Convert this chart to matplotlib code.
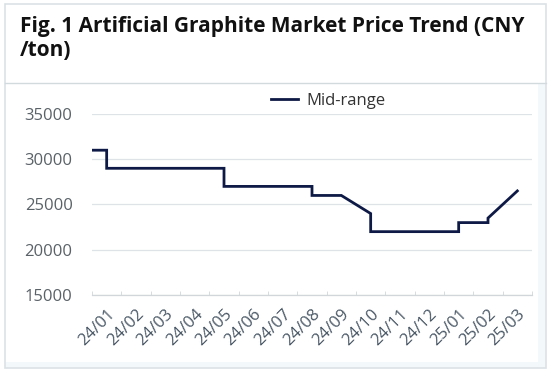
import matplotlib
matplotlib.use("Agg")
import matplotlib.pyplot as plt
from matplotlib.patches import Rectangle
from matplotlib.lines import Line2D

# ---- data ----
month_labels = ["24/01", "24/02", "24/03", "24/04", "24/05", "24/06", "24/07", "24/08",
                "24/09", "24/10", "24/11", "24/12", "25/01", "25/02", "25/03"]
# time in months since start of Jan 2024
month_pos = [0.0, 0.5, 0.5, 4.5, 4.5, 7.5, 7.5, 8.5, 9.5, 9.5, 12.5, 12.5, 13.5, 13.5, 14.5]
mid_price = [31000, 31000, 29000, 29000, 27000, 27000, 26000, 26000, 24000, 22000,
             22000, 23000, 23000, 23500, 26500]
y_ticks = [15000, 20000, 25000, 30000, 35000]
series_name = "Mid-range"
title_text = "Fig. 1 Artificial Graphite Market Price Trend (CNY\n/ton)"

W, H = 550, 372
fig = plt.figure(figsize=(W / 100, H / 100), dpi=100)
fig.patch.set_facecolor("white")

def fx(px):
    return px / W

def fy(py):
    return 1 - py / H

# panel backgrounds / borders
border = "#dbe2e6"
fig.add_artist(Rectangle((fx(538), fy(368)), fx(546) - fx(538), fy(83) - fy(368),
                         transform=fig.transFigure, facecolor="#f3f8fb", edgecolor="none", zorder=0))
fig.add_artist(Rectangle((fx(5), fy(368)), fx(546) - fx(5), fy(362) - fy(368),
                         transform=fig.transFigure, facecolor="#f3f8fb", edgecolor="none", zorder=0))
fig.add_artist(Rectangle((fx(5), fy(368)), fx(546) - fx(5), fy(4) - fy(368),
                         transform=fig.transFigure, facecolor="none", edgecolor=border, lw=1.2, zorder=1))
fig.add_artist(Line2D([fx(5), fx(546)], [fy(83), fy(83)], transform=fig.transFigure,
                      color="#d3dadd", lw=1.0, zorder=1))

fig.text(fx(20), fy(16), title_text, ha="left", va="top", fontsize=15,
         fontweight="bold", family="Open Sans", color="#111111", linespacing=1.2)

ax = fig.add_axes([fx(92), fy(295), fx(532) - fx(92), fy(114) - fy(295)])
ax.set_facecolor("none")
line, = ax.plot(month_pos, mid_price, color="#0e1a45", lw=2.0, solid_joinstyle="miter",
                label=series_name, zorder=3)
ax.set_xlim(0, len(month_labels))
ax.set_ylim(y_ticks[0], y_ticks[-1])
ax.set_yticks(y_ticks)
ax.set_yticklabels([str(v) for v in y_ticks])
ax.set_xticks([i + 0.5 for i in range(len(month_labels))])
ax.set_xticklabels(month_labels, rotation=45, ha="right", va="top", rotation_mode="anchor")
ax.set_xticks(range(len(month_labels) + 1), minor=True)
ax.tick_params(axis="x", which="major", length=0, pad=8, labelsize=12, labelcolor="#4a5866")
ax.tick_params(axis="x", which="minor", length=3, color="#d0d6d9", direction="in")
ax.tick_params(axis="y", length=0, pad=14, labelsize=12, labelcolor="#5a6268")
for lab in ax.get_xticklabels() + ax.get_yticklabels():
    lab.set_family("Open Sans")
ax.grid(axis="y", color="#dde3e6", lw=0.9)
ax.grid(axis="x", visible=False)
for s in ["top", "right", "left"]:
    ax.spines[s].set_visible(False)
ax.spines["bottom"].set_color("#d0d6d9")
ax.spines["bottom"].set_linewidth(0.9)

fig.legend(handles=[line], loc="center", bbox_to_anchor=(fx(328), fy(101)), frameon=False,
           handlelength=1.6, prop={"family": "Open Sans", "size": 12}, labelcolor="#333333",
           handletextpad=0.5)

fig.savefig("out.png", dpi=100)
